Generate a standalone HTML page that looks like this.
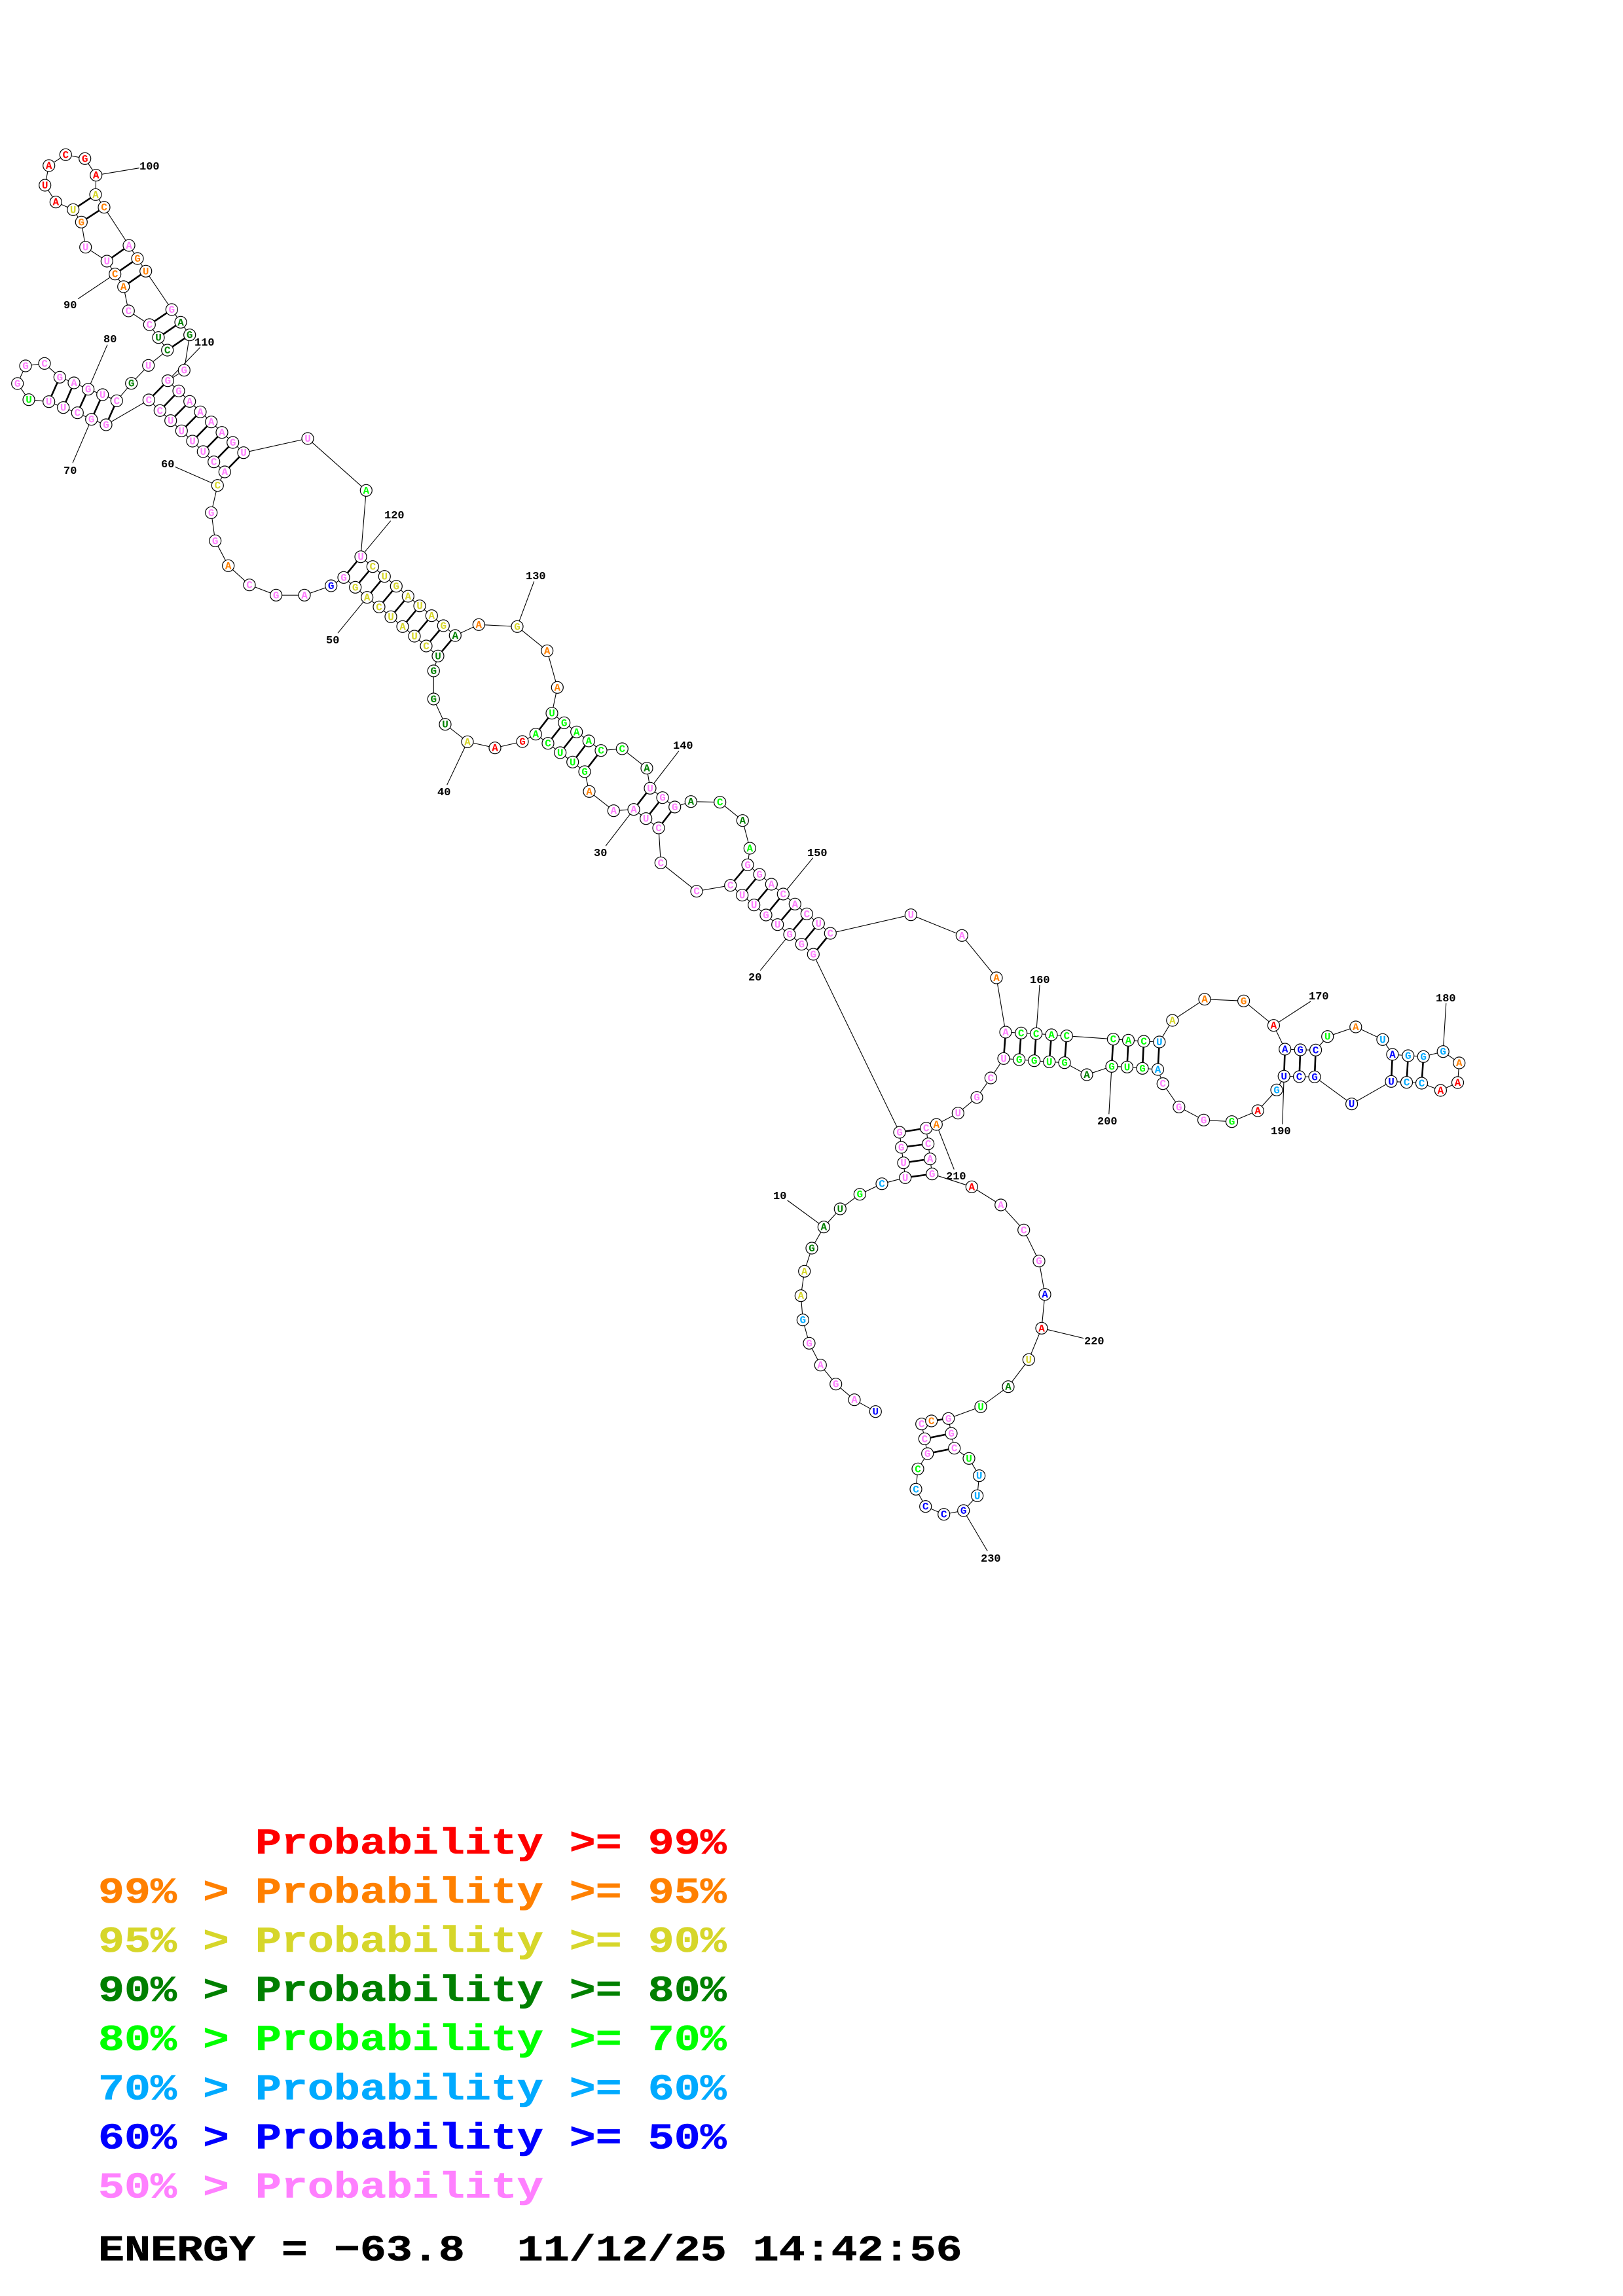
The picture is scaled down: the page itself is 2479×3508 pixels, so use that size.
<!DOCTYPE html>
<html><head><meta charset="utf-8"><title>RNA structure</title>
<style>
html,body{margin:0;padding:0;background:#fff}
svg{display:block}
.n text{font:bold 16px "Liberation Mono",monospace;text-anchor:middle}
circle{fill:#fff;stroke:#000;stroke-width:1.2}
.l text{font:bold 17px "Liberation Mono",monospace;fill:#000}
.L text{font:bold 56px "Liberation Mono",monospace;white-space:pre}
.r{fill:#f00}.o{fill:#ff8000}.y{fill:#d6d62a}.d{fill:#008000}.g{fill:#0f0}.c{fill:#0af}.b{fill:#00f}.p{fill:#ff80ff}.k{fill:#000}
</style></head><body>
<svg xmlns="http://www.w3.org/2000/svg" width="2479" height="3508" viewBox="0 0 2479 3508">
<rect width="2479" height="3508" fill="#fff"/>
<polyline fill="none" stroke="#000" stroke-width="1.1" points="1337.3,2156.7 1305,2138.7 1276.7,2114.7 1253.3,2085.7 1236,2052.3 1226.3,2016.7 1223.3,1979.7 1228.7,1942.3 1240,1907 1258.3,1874.7 1283.3,1847 1313.3,1824.7 1347,1808.7 1382.7,1799.3 1380,1776.7 1376.7,1753 1374,1730 1242.3,1458 1224.3,1442.7 1206,1427.7 1187.7,1412.7 1170,1398 1151.7,1382.7 1133.7,1367.7 1115.7,1352.7 1064,1361.7 1009.3,1318.3 1006,1265 986.7,1250.7 968,1236.7 937.3,1238.7 900,1209.3 893,1179 874.7,1164.3 855.7,1150 837,1135.7 818.3,1121.7 798,1133 756,1142.7 714,1133.3 680,1106.7 662.3,1068 662.3,1025 669,1002.3 651,987 633,972 615,957.3 597,942.3 579,927.3 560.7,912.7 542.7,897.3 525,882.3 505.7,895 465,909.3 421.7,909.3 381,893.7 348.7,864.3 328.7,826.3 322.7,783.3 332.3,741.7 343.3,721 326.7,705.7 310.3,690 294,674 277.3,658.3 260.7,642.7 244.3,627.3 227.3,611 162,649 139.7,640.7 118.3,630.7 96.7,622.7 74.7,613.7 44,610.7 26.7,586 39,559 68,555.3 91.3,576.3 113,585 134.7,594.7 156.7,603 178.3,612.3 200.7,585.7 226.7,558.3 255.7,535 242,515.7 228.3,496 196.3,475 188.7,438 175.7,418.7 163.3,399 130.7,377.7 124.3,339.3 111.7,320.3 85.3,308.7 68.7,283 74.7,253 100.3,236.3 129.7,242.3 146.7,267.7 146,297.3 159,316.7 197,375 210,395 222.7,414.3 262.3,473 276,492.3 289.7,511.7 281.3,565.7 256.3,581.7 273,597.3 289.7,613.3 306,629.3 322.7,644.7 339,660.7 355.7,676 372,691.7 470,670 559.3,749.3 551,850.7 569.3,865.7 587.3,880.7 605.3,895.7 623.3,911 641,925.7 659.3,940.7 677.3,956 695.3,971 731.3,954.3 790,957.3 835.7,994.3 851.3,1050.3 843,1089.7 861.7,1104.3 880.7,1118.3 899.3,1132 918,1146.7 950.3,1144 988,1173.7 993,1204.3 1012,1218.7 1030.7,1233 1055.3,1224.7 1099.7,1225.7 1134.3,1253.7 1145.3,1296 1142,1321.3 1160,1336 1178.3,1351 1196.3,1366 1214.3,1381.3 1232.3,1396.3 1250.3,1411 1268.3,1426 1391.3,1397.7 1469.3,1429.3 1522,1494 1536,1577 1559.7,1578.3 1582.7,1579.3 1606,1581 1629.3,1582.7 1700.4,1587.7 1723.5,1589.3 1747,1591 1770.8,1592 1790.8,1559 1840,1526.7 1899.6,1529.3 1945.4,1566.7 1962.7,1603 1986.2,1604 2009.6,1604.3 2027.7,1583.7 2070.8,1569 2111.9,1588.3 2126.9,1611 2150.8,1613 2174.2,1614.3 2204.2,1606.7 2228.8,1624 2226.5,1654 2200.4,1666 2171.5,1655 2148.5,1653.7 2125,1652.3 2064.6,1686.7 2008,1645.3 1984.6,1645 1961.2,1644.3 1950,1665.3 1921.2,1697 1881.5,1713.7 1838.5,1711.3 1800.8,1691.3 1776.2,1655.7 1768.5,1634 1745,1632.3 1721.5,1630.3 1698,1629.3 1660,1642 1626,1623.7 1602.7,1622.3 1579.7,1620.7 1556.7,1619 1533,1617.3 1513.3,1647 1492,1676.7 1463.3,1700.7 1430.3,1718 1414.7,1723.7 1417.7,1747.7 1420.7,1770.7 1423.7,1793.7 1484.3,1813.3 1528.7,1841 1563.7,1879.3 1587,1926.7 1596,1977.7 1591,2029.3 1571.3,2077.3 1540,2118.7 1498,2149.3 1448.7,2167.3 1453,2190 1457.7,2212.7 1480,2228.3 1495.7,2254.7 1492.7,2285.3 1471.7,2308 1441.7,2313.7 1413.7,2301.7 1399,2275.3 1402,2244.3 1416.7,2221 1412.3,2198.3 1407.7,2175.7 1422.7,2171"/>
<path fill="none" stroke="#000" stroke-width="2.6" d="M1382.7,1799.3L1423.7,1793.7M1380,1776.7L1420.7,1770.7M1376.7,1753L1417.7,1747.7M1374,1730L1414.7,1723.7M1242.3,1458L1268.3,1426M1224.3,1442.7L1250.3,1411M1206,1427.7L1232.3,1396.3M1187.7,1412.7L1214.3,1381.3M1170,1398L1196.3,1366M1151.7,1382.7L1178.3,1351M1133.7,1367.7L1160,1336M1115.7,1352.7L1142,1321.3M1006,1265L1030.7,1233M986.7,1250.7L1012,1218.7M968,1236.7L993,1204.3M893,1179L918,1146.7M874.7,1164.3L899.3,1132M855.7,1150L880.7,1118.3M837,1135.7L861.7,1104.3M818.3,1121.7L843,1089.7M669,1002.3L695.3,971M651,987L677.3,956M633,972L659.3,940.7M615,957.3L641,925.7M597,942.3L623.3,911M579,927.3L605.3,895.7M560.7,912.7L587.3,880.7M542.7,897.3L569.3,865.7M525,882.3L551,850.7M343.3,721L372,691.7M326.7,705.7L355.7,676M310.3,690L339,660.7M294,674L322.7,644.7M277.3,658.3L306,629.3M260.7,642.7L289.7,613.3M244.3,627.3L273,597.3M227.3,611L256.3,581.7M162,649L178.3,612.3M139.7,640.7L156.7,603M118.3,630.7L134.7,594.7M96.7,622.7L113,585M74.7,613.7L91.3,576.3M255.7,535L289.7,511.7M242,515.7L276,492.3M228.3,496L262.3,473M188.7,438L222.7,414.3M175.7,418.7L210,395M163.3,399L197,375M124.3,339.3L159,316.7M111.7,320.3L146,297.3M1536,1577L1533,1617.3M1559.7,1578.3L1556.7,1619M1582.7,1579.3L1579.7,1620.7M1606,1581L1602.7,1622.3M1629.3,1582.7L1626,1623.7M1700.4,1587.7L1698,1629.3M1723.5,1589.3L1721.5,1630.3M1747,1591L1745,1632.3M1770.8,1592L1768.5,1634M1962.7,1603L1961.2,1644.3M1986.2,1604L1984.6,1645M2009.6,1604.3L2008,1645.3M2126.9,1611L2125,1652.3M2150.8,1613L2148.5,1653.7M2174.2,1614.3L2171.5,1655M1448.7,2167.3L1422.7,2171M1453,2190L1412.3,2198.3M1457.7,2212.7L1416.7,2221"/>
<path fill="none" stroke="#000" stroke-width="1.1" d="M146.7,267.7L212.7,256.7M175.7,418.7L119,456.7M134.7,594.7L164,526.7M139.7,640.7L111,707.3M256.3,581.7L305.7,530.7M332.3,741.7L267.3,713.3M551,850.7L596.7,795.7M560.7,912.7L516,967.3M790,957.3L815.7,888.3M714,1133.3L682.7,1199.3M993,1204.3L1037,1147.3M968,1236.7L925,1292.7M1196.3,1366L1241.7,1310.7M1206,1427.7L1161.3,1482.7M1582.7,1579.3L1588,1505M1430.3,1718L1457.3,1786.7M1698,1629.3L1693.8,1702.3M1945.4,1566.7L2001.9,1530M2204.2,1606.7L2208.8,1532.7M1961.2,1644.3L1958.8,1717.7M1258.3,1874.7L1202.7,1834M1591,2029.3L1655,2044.7M1471.7,2308L1508.3,2370"/>
<g class="n">
<g transform="translate(1337.3,2156.7)"><circle r="9"/><text y="5" class="b">U</text></g>
<g transform="translate(1305,2138.7)"><circle r="9"/><text y="5" class="p">A</text></g>
<g transform="translate(1276.7,2114.7)"><circle r="9"/><text y="5" class="p">G</text></g>
<g transform="translate(1253.3,2085.7)"><circle r="9"/><text y="5" class="p">A</text></g>
<g transform="translate(1236,2052.3)"><circle r="9"/><text y="5" class="p">G</text></g>
<g transform="translate(1226.3,2016.7)"><circle r="9"/><text y="5" class="c">G</text></g>
<g transform="translate(1223.3,1979.7)"><circle r="9"/><text y="5" class="y">A</text></g>
<g transform="translate(1228.7,1942.3)"><circle r="9"/><text y="5" class="y">A</text></g>
<g transform="translate(1240,1907)"><circle r="9"/><text y="5" class="d">G</text></g>
<g transform="translate(1258.3,1874.7)"><circle r="9"/><text y="5" class="d">A</text></g>
<g transform="translate(1283.3,1847)"><circle r="9"/><text y="5" class="d">U</text></g>
<g transform="translate(1313.3,1824.7)"><circle r="9"/><text y="5" class="g">G</text></g>
<g transform="translate(1347,1808.7)"><circle r="9"/><text y="5" class="c">C</text></g>
<g transform="translate(1382.7,1799.3)"><circle r="9"/><text y="5" class="p">U</text></g>
<g transform="translate(1380,1776.7)"><circle r="9"/><text y="5" class="p">U</text></g>
<g transform="translate(1376.7,1753)"><circle r="9"/><text y="5" class="p">G</text></g>
<g transform="translate(1374,1730)"><circle r="9"/><text y="5" class="p">G</text></g>
<g transform="translate(1242.3,1458)"><circle r="9"/><text y="5" class="p">G</text></g>
<g transform="translate(1224.3,1442.7)"><circle r="9"/><text y="5" class="p">G</text></g>
<g transform="translate(1206,1427.7)"><circle r="9"/><text y="5" class="p">G</text></g>
<g transform="translate(1187.7,1412.7)"><circle r="9"/><text y="5" class="p">U</text></g>
<g transform="translate(1170,1398)"><circle r="9"/><text y="5" class="p">G</text></g>
<g transform="translate(1151.7,1382.7)"><circle r="9"/><text y="5" class="p">U</text></g>
<g transform="translate(1133.7,1367.7)"><circle r="9"/><text y="5" class="p">U</text></g>
<g transform="translate(1115.7,1352.7)"><circle r="9"/><text y="5" class="p">C</text></g>
<g transform="translate(1064,1361.7)"><circle r="9"/><text y="5" class="p">C</text></g>
<g transform="translate(1009.3,1318.3)"><circle r="9"/><text y="5" class="p">C</text></g>
<g transform="translate(1006,1265)"><circle r="9"/><text y="5" class="p">C</text></g>
<g transform="translate(986.7,1250.7)"><circle r="9"/><text y="5" class="p">U</text></g>
<g transform="translate(968,1236.7)"><circle r="9"/><text y="5" class="p">A</text></g>
<g transform="translate(937.3,1238.7)"><circle r="9"/><text y="5" class="p">A</text></g>
<g transform="translate(900,1209.3)"><circle r="9"/><text y="5" class="o">A</text></g>
<g transform="translate(893,1179)"><circle r="9"/><text y="5" class="g">G</text></g>
<g transform="translate(874.7,1164.3)"><circle r="9"/><text y="5" class="g">U</text></g>
<g transform="translate(855.7,1150)"><circle r="9"/><text y="5" class="g">U</text></g>
<g transform="translate(837,1135.7)"><circle r="9"/><text y="5" class="g">C</text></g>
<g transform="translate(818.3,1121.7)"><circle r="9"/><text y="5" class="g">A</text></g>
<g transform="translate(798,1133)"><circle r="9"/><text y="5" class="r">G</text></g>
<g transform="translate(756,1142.7)"><circle r="9"/><text y="5" class="r">A</text></g>
<g transform="translate(714,1133.3)"><circle r="9"/><text y="5" class="y">A</text></g>
<g transform="translate(680,1106.7)"><circle r="9"/><text y="5" class="d">U</text></g>
<g transform="translate(662.3,1068)"><circle r="9"/><text y="5" class="d">G</text></g>
<g transform="translate(662.3,1025)"><circle r="9"/><text y="5" class="d">G</text></g>
<g transform="translate(669,1002.3)"><circle r="9"/><text y="5" class="d">U</text></g>
<g transform="translate(651,987)"><circle r="9"/><text y="5" class="y">C</text></g>
<g transform="translate(633,972)"><circle r="9"/><text y="5" class="y">U</text></g>
<g transform="translate(615,957.3)"><circle r="9"/><text y="5" class="y">A</text></g>
<g transform="translate(597,942.3)"><circle r="9"/><text y="5" class="y">U</text></g>
<g transform="translate(579,927.3)"><circle r="9"/><text y="5" class="y">C</text></g>
<g transform="translate(560.7,912.7)"><circle r="9"/><text y="5" class="y">A</text></g>
<g transform="translate(542.7,897.3)"><circle r="9"/><text y="5" class="y">G</text></g>
<g transform="translate(525,882.3)"><circle r="9"/><text y="5" class="p">G</text></g>
<g transform="translate(505.7,895)"><circle r="9"/><text y="5" class="b">G</text></g>
<g transform="translate(465,909.3)"><circle r="9"/><text y="5" class="p">A</text></g>
<g transform="translate(421.7,909.3)"><circle r="9"/><text y="5" class="p">G</text></g>
<g transform="translate(381,893.7)"><circle r="9"/><text y="5" class="p">C</text></g>
<g transform="translate(348.7,864.3)"><circle r="9"/><text y="5" class="o">A</text></g>
<g transform="translate(328.7,826.3)"><circle r="9"/><text y="5" class="p">G</text></g>
<g transform="translate(322.7,783.3)"><circle r="9"/><text y="5" class="p">G</text></g>
<g transform="translate(332.3,741.7)"><circle r="9"/><text y="5" class="y">C</text></g>
<g transform="translate(343.3,721)"><circle r="9"/><text y="5" class="p">A</text></g>
<g transform="translate(326.7,705.7)"><circle r="9"/><text y="5" class="p">C</text></g>
<g transform="translate(310.3,690)"><circle r="9"/><text y="5" class="p">U</text></g>
<g transform="translate(294,674)"><circle r="9"/><text y="5" class="p">U</text></g>
<g transform="translate(277.3,658.3)"><circle r="9"/><text y="5" class="p">U</text></g>
<g transform="translate(260.7,642.7)"><circle r="9"/><text y="5" class="p">U</text></g>
<g transform="translate(244.3,627.3)"><circle r="9"/><text y="5" class="p">C</text></g>
<g transform="translate(227.3,611)"><circle r="9"/><text y="5" class="p">C</text></g>
<g transform="translate(162,649)"><circle r="9"/><text y="5" class="p">G</text></g>
<g transform="translate(139.7,640.7)"><circle r="9"/><text y="5" class="p">G</text></g>
<g transform="translate(118.3,630.7)"><circle r="9"/><text y="5" class="p">C</text></g>
<g transform="translate(96.7,622.7)"><circle r="9"/><text y="5" class="p">U</text></g>
<g transform="translate(74.7,613.7)"><circle r="9"/><text y="5" class="p">U</text></g>
<g transform="translate(44,610.7)"><circle r="9"/><text y="5" class="g">U</text></g>
<g transform="translate(26.7,586)"><circle r="9"/><text y="5" class="p">G</text></g>
<g transform="translate(39,559)"><circle r="9"/><text y="5" class="p">G</text></g>
<g transform="translate(68,555.3)"><circle r="9"/><text y="5" class="p">C</text></g>
<g transform="translate(91.3,576.3)"><circle r="9"/><text y="5" class="p">G</text></g>
<g transform="translate(113,585)"><circle r="9"/><text y="5" class="p">A</text></g>
<g transform="translate(134.7,594.7)"><circle r="9"/><text y="5" class="p">G</text></g>
<g transform="translate(156.7,603)"><circle r="9"/><text y="5" class="p">U</text></g>
<g transform="translate(178.3,612.3)"><circle r="9"/><text y="5" class="p">C</text></g>
<g transform="translate(200.7,585.7)"><circle r="9"/><text y="5" class="d">G</text></g>
<g transform="translate(226.7,558.3)"><circle r="9"/><text y="5" class="p">U</text></g>
<g transform="translate(255.7,535)"><circle r="9"/><text y="5" class="d">C</text></g>
<g transform="translate(242,515.7)"><circle r="9"/><text y="5" class="d">U</text></g>
<g transform="translate(228.3,496)"><circle r="9"/><text y="5" class="p">C</text></g>
<g transform="translate(196.3,475)"><circle r="9"/><text y="5" class="p">C</text></g>
<g transform="translate(188.7,438)"><circle r="9"/><text y="5" class="o">A</text></g>
<g transform="translate(175.7,418.7)"><circle r="9"/><text y="5" class="o">C</text></g>
<g transform="translate(163.3,399)"><circle r="9"/><text y="5" class="p">U</text></g>
<g transform="translate(130.7,377.7)"><circle r="9"/><text y="5" class="p">U</text></g>
<g transform="translate(124.3,339.3)"><circle r="9"/><text y="5" class="o">G</text></g>
<g transform="translate(111.7,320.3)"><circle r="9"/><text y="5" class="y">U</text></g>
<g transform="translate(85.3,308.7)"><circle r="9"/><text y="5" class="r">A</text></g>
<g transform="translate(68.7,283)"><circle r="9"/><text y="5" class="r">U</text></g>
<g transform="translate(74.7,253)"><circle r="9"/><text y="5" class="r">A</text></g>
<g transform="translate(100.3,236.3)"><circle r="9"/><text y="5" class="r">C</text></g>
<g transform="translate(129.7,242.3)"><circle r="9"/><text y="5" class="r">G</text></g>
<g transform="translate(146.7,267.7)"><circle r="9"/><text y="5" class="r">A</text></g>
<g transform="translate(146,297.3)"><circle r="9"/><text y="5" class="y">A</text></g>
<g transform="translate(159,316.7)"><circle r="9"/><text y="5" class="o">C</text></g>
<g transform="translate(197,375)"><circle r="9"/><text y="5" class="p">A</text></g>
<g transform="translate(210,395)"><circle r="9"/><text y="5" class="o">G</text></g>
<g transform="translate(222.7,414.3)"><circle r="9"/><text y="5" class="o">U</text></g>
<g transform="translate(262.3,473)"><circle r="9"/><text y="5" class="p">G</text></g>
<g transform="translate(276,492.3)"><circle r="9"/><text y="5" class="d">A</text></g>
<g transform="translate(289.7,511.7)"><circle r="9"/><text y="5" class="d">G</text></g>
<g transform="translate(281.3,565.7)"><circle r="9"/><text y="5" class="p">G</text></g>
<g transform="translate(256.3,581.7)"><circle r="9"/><text y="5" class="p">G</text></g>
<g transform="translate(273,597.3)"><circle r="9"/><text y="5" class="p">G</text></g>
<g transform="translate(289.7,613.3)"><circle r="9"/><text y="5" class="p">A</text></g>
<g transform="translate(306,629.3)"><circle r="9"/><text y="5" class="p">A</text></g>
<g transform="translate(322.7,644.7)"><circle r="9"/><text y="5" class="p">A</text></g>
<g transform="translate(339,660.7)"><circle r="9"/><text y="5" class="p">A</text></g>
<g transform="translate(355.7,676)"><circle r="9"/><text y="5" class="p">G</text></g>
<g transform="translate(372,691.7)"><circle r="9"/><text y="5" class="p">U</text></g>
<g transform="translate(470,670)"><circle r="9"/><text y="5" class="p">U</text></g>
<g transform="translate(559.3,749.3)"><circle r="9"/><text y="5" class="g">A</text></g>
<g transform="translate(551,850.7)"><circle r="9"/><text y="5" class="p">U</text></g>
<g transform="translate(569.3,865.7)"><circle r="9"/><text y="5" class="y">C</text></g>
<g transform="translate(587.3,880.7)"><circle r="9"/><text y="5" class="y">U</text></g>
<g transform="translate(605.3,895.7)"><circle r="9"/><text y="5" class="y">G</text></g>
<g transform="translate(623.3,911)"><circle r="9"/><text y="5" class="y">A</text></g>
<g transform="translate(641,925.7)"><circle r="9"/><text y="5" class="y">U</text></g>
<g transform="translate(659.3,940.7)"><circle r="9"/><text y="5" class="y">A</text></g>
<g transform="translate(677.3,956)"><circle r="9"/><text y="5" class="y">G</text></g>
<g transform="translate(695.3,971)"><circle r="9"/><text y="5" class="d">A</text></g>
<g transform="translate(731.3,954.3)"><circle r="9"/><text y="5" class="o">A</text></g>
<g transform="translate(790,957.3)"><circle r="9"/><text y="5" class="y">G</text></g>
<g transform="translate(835.7,994.3)"><circle r="9"/><text y="5" class="o">A</text></g>
<g transform="translate(851.3,1050.3)"><circle r="9"/><text y="5" class="o">A</text></g>
<g transform="translate(843,1089.7)"><circle r="9"/><text y="5" class="g">U</text></g>
<g transform="translate(861.7,1104.3)"><circle r="9"/><text y="5" class="g">G</text></g>
<g transform="translate(880.7,1118.3)"><circle r="9"/><text y="5" class="g">A</text></g>
<g transform="translate(899.3,1132)"><circle r="9"/><text y="5" class="g">A</text></g>
<g transform="translate(918,1146.7)"><circle r="9"/><text y="5" class="g">C</text></g>
<g transform="translate(950.3,1144)"><circle r="9"/><text y="5" class="g">C</text></g>
<g transform="translate(988,1173.7)"><circle r="9"/><text y="5" class="d">A</text></g>
<g transform="translate(993,1204.3)"><circle r="9"/><text y="5" class="p">U</text></g>
<g transform="translate(1012,1218.7)"><circle r="9"/><text y="5" class="p">G</text></g>
<g transform="translate(1030.7,1233)"><circle r="9"/><text y="5" class="p">G</text></g>
<g transform="translate(1055.3,1224.7)"><circle r="9"/><text y="5" class="d">A</text></g>
<g transform="translate(1099.7,1225.7)"><circle r="9"/><text y="5" class="g">C</text></g>
<g transform="translate(1134.3,1253.7)"><circle r="9"/><text y="5" class="d">A</text></g>
<g transform="translate(1145.3,1296)"><circle r="9"/><text y="5" class="g">A</text></g>
<g transform="translate(1142,1321.3)"><circle r="9"/><text y="5" class="p">G</text></g>
<g transform="translate(1160,1336)"><circle r="9"/><text y="5" class="p">G</text></g>
<g transform="translate(1178.3,1351)"><circle r="9"/><text y="5" class="p">A</text></g>
<g transform="translate(1196.3,1366)"><circle r="9"/><text y="5" class="p">C</text></g>
<g transform="translate(1214.3,1381.3)"><circle r="9"/><text y="5" class="p">A</text></g>
<g transform="translate(1232.3,1396.3)"><circle r="9"/><text y="5" class="p">C</text></g>
<g transform="translate(1250.3,1411)"><circle r="9"/><text y="5" class="p">U</text></g>
<g transform="translate(1268.3,1426)"><circle r="9"/><text y="5" class="p">C</text></g>
<g transform="translate(1391.3,1397.7)"><circle r="9"/><text y="5" class="p">U</text></g>
<g transform="translate(1469.3,1429.3)"><circle r="9"/><text y="5" class="p">A</text></g>
<g transform="translate(1522,1494)"><circle r="9"/><text y="5" class="o">A</text></g>
<g transform="translate(1536,1577)"><circle r="9"/><text y="5" class="p">A</text></g>
<g transform="translate(1559.7,1578.3)"><circle r="9"/><text y="5" class="g">C</text></g>
<g transform="translate(1582.7,1579.3)"><circle r="9"/><text y="5" class="g">C</text></g>
<g transform="translate(1606,1581)"><circle r="9"/><text y="5" class="g">A</text></g>
<g transform="translate(1629.3,1582.7)"><circle r="9"/><text y="5" class="g">C</text></g>
<g transform="translate(1700.4,1587.7)"><circle r="9"/><text y="5" class="g">C</text></g>
<g transform="translate(1723.5,1589.3)"><circle r="9"/><text y="5" class="g">A</text></g>
<g transform="translate(1747,1591)"><circle r="9"/><text y="5" class="g">C</text></g>
<g transform="translate(1770.8,1592)"><circle r="9"/><text y="5" class="c">U</text></g>
<g transform="translate(1790.8,1559)"><circle r="9"/><text y="5" class="y">A</text></g>
<g transform="translate(1840,1526.7)"><circle r="9"/><text y="5" class="o">A</text></g>
<g transform="translate(1899.6,1529.3)"><circle r="9"/><text y="5" class="o">G</text></g>
<g transform="translate(1945.4,1566.7)"><circle r="9"/><text y="5" class="r">A</text></g>
<g transform="translate(1962.7,1603)"><circle r="9"/><text y="5" class="b">A</text></g>
<g transform="translate(1986.2,1604)"><circle r="9"/><text y="5" class="b">G</text></g>
<g transform="translate(2009.6,1604.3)"><circle r="9"/><text y="5" class="b">C</text></g>
<g transform="translate(2027.7,1583.7)"><circle r="9"/><text y="5" class="g">U</text></g>
<g transform="translate(2070.8,1569)"><circle r="9"/><text y="5" class="o">A</text></g>
<g transform="translate(2111.9,1588.3)"><circle r="9"/><text y="5" class="c">U</text></g>
<g transform="translate(2126.9,1611)"><circle r="9"/><text y="5" class="b">A</text></g>
<g transform="translate(2150.8,1613)"><circle r="9"/><text y="5" class="c">G</text></g>
<g transform="translate(2174.2,1614.3)"><circle r="9"/><text y="5" class="c">G</text></g>
<g transform="translate(2204.2,1606.7)"><circle r="9"/><text y="5" class="c">G</text></g>
<g transform="translate(2228.8,1624)"><circle r="9"/><text y="5" class="o">A</text></g>
<g transform="translate(2226.5,1654)"><circle r="9"/><text y="5" class="r">A</text></g>
<g transform="translate(2200.4,1666)"><circle r="9"/><text y="5" class="r">A</text></g>
<g transform="translate(2171.5,1655)"><circle r="9"/><text y="5" class="c">C</text></g>
<g transform="translate(2148.5,1653.7)"><circle r="9"/><text y="5" class="c">C</text></g>
<g transform="translate(2125,1652.3)"><circle r="9"/><text y="5" class="b">U</text></g>
<g transform="translate(2064.6,1686.7)"><circle r="9"/><text y="5" class="b">U</text></g>
<g transform="translate(2008,1645.3)"><circle r="9"/><text y="5" class="b">G</text></g>
<g transform="translate(1984.6,1645)"><circle r="9"/><text y="5" class="b">C</text></g>
<g transform="translate(1961.2,1644.3)"><circle r="9"/><text y="5" class="b">U</text></g>
<g transform="translate(1950,1665.3)"><circle r="9"/><text y="5" class="c">G</text></g>
<g transform="translate(1921.2,1697)"><circle r="9"/><text y="5" class="r">A</text></g>
<g transform="translate(1881.5,1713.7)"><circle r="9"/><text y="5" class="g">G</text></g>
<g transform="translate(1838.5,1711.3)"><circle r="9"/><text y="5" class="p">G</text></g>
<g transform="translate(1800.8,1691.3)"><circle r="9"/><text y="5" class="p">G</text></g>
<g transform="translate(1776.2,1655.7)"><circle r="9"/><text y="5" class="p">C</text></g>
<g transform="translate(1768.5,1634)"><circle r="9"/><text y="5" class="c">A</text></g>
<g transform="translate(1745,1632.3)"><circle r="9"/><text y="5" class="g">G</text></g>
<g transform="translate(1721.5,1630.3)"><circle r="9"/><text y="5" class="g">U</text></g>
<g transform="translate(1698,1629.3)"><circle r="9"/><text y="5" class="g">G</text></g>
<g transform="translate(1660,1642)"><circle r="9"/><text y="5" class="d">A</text></g>
<g transform="translate(1626,1623.7)"><circle r="9"/><text y="5" class="g">G</text></g>
<g transform="translate(1602.7,1622.3)"><circle r="9"/><text y="5" class="g">U</text></g>
<g transform="translate(1579.7,1620.7)"><circle r="9"/><text y="5" class="g">G</text></g>
<g transform="translate(1556.7,1619)"><circle r="9"/><text y="5" class="g">G</text></g>
<g transform="translate(1533,1617.3)"><circle r="9"/><text y="5" class="p">U</text></g>
<g transform="translate(1513.3,1647)"><circle r="9"/><text y="5" class="p">C</text></g>
<g transform="translate(1492,1676.7)"><circle r="9"/><text y="5" class="p">G</text></g>
<g transform="translate(1463.3,1700.7)"><circle r="9"/><text y="5" class="p">U</text></g>
<g transform="translate(1414.7,1723.7)"><circle r="9"/><text y="5" class="p">C</text></g>
<g transform="translate(1430.3,1718)"><circle r="9"/><text y="5" class="o">A</text></g>
<g transform="translate(1417.7,1747.7)"><circle r="9"/><text y="5" class="p">C</text></g>
<g transform="translate(1420.7,1770.7)"><circle r="9"/><text y="5" class="p">A</text></g>
<g transform="translate(1423.7,1793.7)"><circle r="9"/><text y="5" class="p">G</text></g>
<g transform="translate(1484.3,1813.3)"><circle r="9"/><text y="5" class="r">A</text></g>
<g transform="translate(1528.7,1841)"><circle r="9"/><text y="5" class="p">A</text></g>
<g transform="translate(1563.7,1879.3)"><circle r="9"/><text y="5" class="p">C</text></g>
<g transform="translate(1587,1926.7)"><circle r="9"/><text y="5" class="p">G</text></g>
<g transform="translate(1596,1977.7)"><circle r="9"/><text y="5" class="b">A</text></g>
<g transform="translate(1591,2029.3)"><circle r="9"/><text y="5" class="r">A</text></g>
<g transform="translate(1571.3,2077.3)"><circle r="9"/><text y="5" class="y">U</text></g>
<g transform="translate(1540,2118.7)"><circle r="9"/><text y="5" class="d">A</text></g>
<g transform="translate(1498,2149.3)"><circle r="9"/><text y="5" class="g">U</text></g>
<g transform="translate(1448.7,2167.3)"><circle r="9"/><text y="5" class="p">G</text></g>
<g transform="translate(1453,2190)"><circle r="9"/><text y="5" class="p">G</text></g>
<g transform="translate(1457.7,2212.7)"><circle r="9"/><text y="5" class="p">C</text></g>
<g transform="translate(1480,2228.3)"><circle r="9"/><text y="5" class="g">U</text></g>
<g transform="translate(1495.7,2254.7)"><circle r="9"/><text y="5" class="c">U</text></g>
<g transform="translate(1492.7,2285.3)"><circle r="9"/><text y="5" class="c">U</text></g>
<g transform="translate(1471.7,2308)"><circle r="9"/><text y="5" class="b">G</text></g>
<g transform="translate(1441.7,2313.7)"><circle r="9"/><text y="5" class="b">C</text></g>
<g transform="translate(1413.7,2301.7)"><circle r="9"/><text y="5" class="b">C</text></g>
<g transform="translate(1399,2275.3)"><circle r="9"/><text y="5" class="c">C</text></g>
<g transform="translate(1402,2244.3)"><circle r="9"/><text y="5" class="g">C</text></g>
<g transform="translate(1416.7,2221)"><circle r="9"/><text y="5" class="p">G</text></g>
<g transform="translate(1412.3,2198.3)"><circle r="9"/><text y="5" class="p">C</text></g>
<g transform="translate(1407.7,2175.7)"><circle r="9"/><text y="5" class="p">C</text></g>
<g transform="translate(1422.7,2171)"><circle r="9"/><text y="5" class="o">C</text></g>
</g>
<g class="l">
<text x="213" y="259">100</text>
<text x="97" y="471">90</text>
<text x="158" y="523">80</text>
<text x="97" y="724">70</text>
<text x="297" y="528">110</text>
<text x="246" y="714">60</text>
<text x="587" y="792">120</text>
<text x="498" y="983">50</text>
<text x="803" y="885">130</text>
<text x="668" y="1215">40</text>
<text x="1028" y="1144">140</text>
<text x="907" y="1308">30</text>
<text x="1233" y="1308">150</text>
<text x="1143" y="1498">20</text>
<text x="1573" y="1502">160</text>
<text x="1445" y="1802">210</text>
<text x="1676" y="1718">200</text>
<text x="1999" y="1527">170</text>
<text x="2193" y="1530">180</text>
<text x="1941" y="1733">190</text>
<text x="1181" y="1832">10</text>
<text x="1656" y="2054">220</text>
<text x="1498" y="2386">230</text>
</g>
<g class="L" transform="translate(150,0) scale(1.19,1)" stroke-width="0.6">
<text x="0" y="2832" xml:space="preserve" class="r" stroke="#f00">      Probability &gt;= 99%</text>
<text x="0" y="2907" xml:space="preserve" class="o" stroke="#ff8000">99% &gt; Probability &gt;= 95%</text>
<text x="0" y="2982" xml:space="preserve" class="y" stroke="#d6d62a">95% &gt; Probability &gt;= 90%</text>
<text x="0" y="3057.2" xml:space="preserve" class="d" stroke="#008000">90% &gt; Probability &gt;= 80%</text>
<text x="0" y="3132.2" xml:space="preserve" class="g" stroke="#0f0">80% &gt; Probability &gt;= 70%</text>
<text x="0" y="3207.3" xml:space="preserve" class="c" stroke="#0af">70% &gt; Probability &gt;= 60%</text>
<text x="0" y="3282.3" xml:space="preserve" class="b" stroke="#00f">60% &gt; Probability &gt;= 50%</text>
<text x="0" y="3357.3" xml:space="preserve" class="p" stroke="#ff80ff">50% &gt; Probability</text>
<text x="0" y="3453.3" xml:space="preserve" class="k" stroke="#000">ENERGY = −63.8  11/12/25 14:42:56</text>
</g>
</svg>
</body></html>
